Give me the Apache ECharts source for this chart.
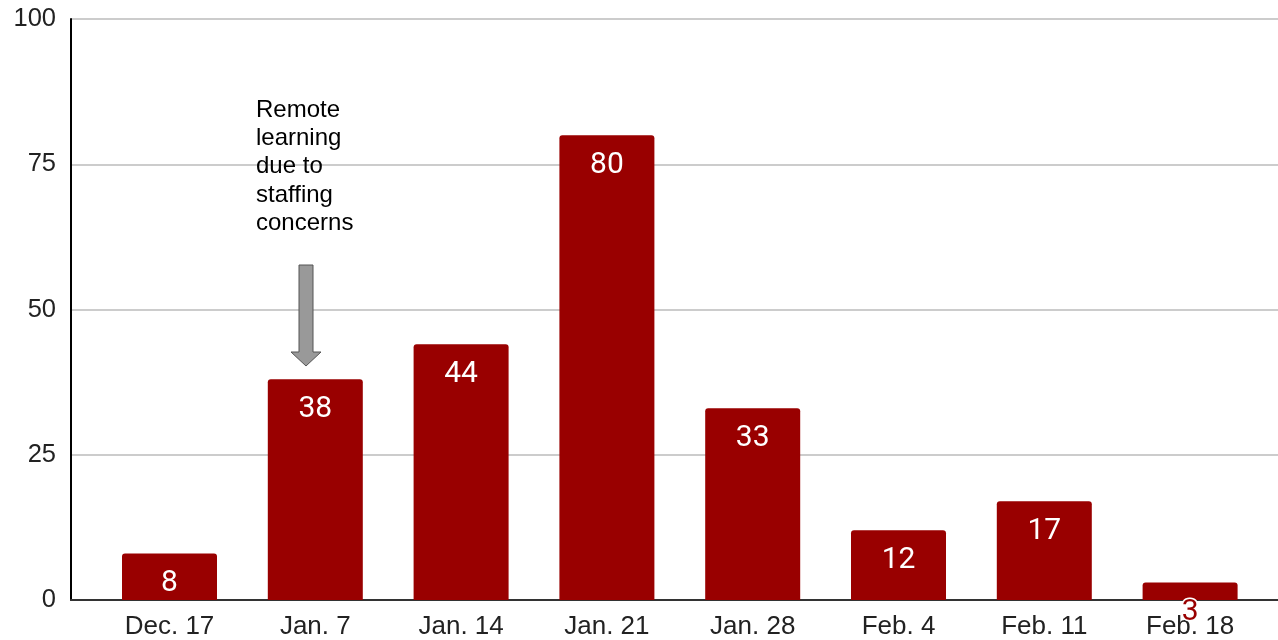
<!DOCTYPE html>
<html>
<head>
<meta charset="utf-8">
<script src="https://cdn.jsdelivr.net/npm/echarts@6/dist/echarts.min.js"></script>
<style>html,body{margin:0;padding:0;background:#fff}#c{width:1278px;height:640px}</style>
</head>
<body>
<div id="c"></div>
<script>
const categories = ['Dec. 17', 'Jan. 7', 'Jan. 14', 'Jan. 21', 'Jan. 28', 'Feb. 4', 'Feb. 11', 'Feb. 18'];
const values = [8, 38, 44, 80, 33, 12, 17, 3];
const yTicks = [0, 25, 50, 75, 100];
const annotationText = 'Remote\nlearning\ndue to\nstaffing\nconcerns';

const chart = echarts.init(document.getElementById('c'));
const BAR = '#990000';
const FONT = "'Liberation Sans', Arial, sans-serif";
const seriesData = values.map(v => {
  if (v < 6) {
    return { value: v, label: { color: BAR, textBorderColor: '#fff', textBorderWidth: 3 } };
  }
  return v;
});
chart.setOption({
  animation: false,
  grid: [
    { left: 71, right: 0, top: 19, bottom: 40 },
    { left: 96.6, right: 15, top: 19, bottom: 40 }
  ],
  xAxis: [
    { gridIndex: 0, type: 'value', min: 0, max: 1, axisLabel: { show: false }, axisTick: { show: false }, splitLine: { show: false },
      axisLine: { show: true, lineStyle: { color: '#333', width: 2 } }, z: 5 },
    { gridIndex: 1, type: 'category', data: categories, axisLine: { show: false }, axisTick: { show: false },
      axisLabel: { fontFamily: FONT, fontSize: 26, color: '#222', margin: 14 } }
  ],
  yAxis: [
    { gridIndex: 0, type: 'value', min: yTicks[0], max: yTicks[yTicks.length - 1], interval: 25,
      axisLine: { show: true, lineStyle: { color: '#000', width: 2 } }, axisTick: { show: false },
      axisLabel: { fontFamily: FONT, fontSize: 25.5, color: '#222', margin: 15 },
      splitLine: { show: true, lineStyle: { color: '#ccc', width: 2 } } },
    { gridIndex: 1, type: 'value', min: yTicks[0], max: yTicks[yTicks.length - 1], interval: 25, show: false }
  ],
  series: [{
    type: 'bar', xAxisIndex: 1, yAxisIndex: 1, data: seriesData, barWidth: 95,
    itemStyle: { color: BAR, borderRadius: [3, 3, 0, 0] },
    label: { show: true, position: 'insideTop', distance: 15, fontFamily: 'Roboto, sans-serif', fontSize: 30, color: '#fff' },
    z: 8
  }],
  graphic: [
    { type: 'text', left: 256, top: 96, z: 10,
      style: { text: annotationText, font: "24px 'Liberation Sans', Arial, sans-serif", lineHeight: 28.3, fill: '#000' } },
    { type: 'polygon', z: 10,
      shape: { points: [[299, 265], [313, 265], [313, 352], [321, 352], [306, 366], [291, 352], [299, 352]] },
      style: { fill: '#999', stroke: '#555', lineWidth: 1 } }
  ]
});
</script>
</body>
</html>
